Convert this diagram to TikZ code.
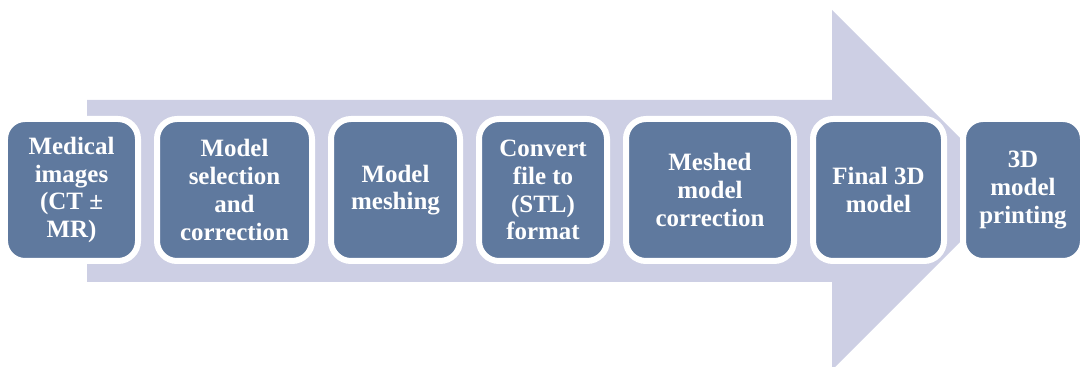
\documentclass[tikz,border=0pt]{standalone}
\usepackage{fontspec}
\setmainfont{Liberation Serif}
\usepackage{xcolor}
\usetikzlibrary{positioning}

\definecolor{stepblue}{RGB}{95,121,158}
\definecolor{arrowgray}{RGB}{205,207,228}

\begin{document}
\begin{tikzpicture}[
    node distance=0.26cm,
    box/.style={rectangle, rounded corners=0.4cm, fill=stepblue, draw=white, line width=0.12cm,
        minimum height=2.84cm, inner sep=0pt, align=center, text=white,
        font=\fontsize{14.2}{15.8}\selectfont\bfseries}
]
\useasboundingbox (0,0) rectangle (21.66,7.34);

\fill[arrowgray] (1.74,5.34) -- (16.64,5.34) -- (16.64,7.14) -- (20.24,3.54)
    -- (16.64,-0.06) -- (16.64,1.70) -- (1.74,1.70) -- cycle;

\node[box, minimum width=2.66cm] (images) at (1.43,3.54) {Medical\\images\\(CT ±\\MR)};
\node[box, minimum width=3.10cm, right=of images] (selection) {Model\\selection\\and\\correction};
\node[box, minimum width=2.58cm, right=of selection] (meshing) {Model\\meshing};
\node[box, minimum width=2.56cm, right=of meshing] (convert) {Convert\\file to\\(STL)\\format};
\node[box, minimum width=3.36cm, right=of convert] (meshcorr) {Meshed\\model\\correction};
\node[box, minimum width=2.62cm, right=of meshcorr] (final) {Final 3D\\model};
\node[box, minimum width=2.40cm, right=of final] (printing) {3D\\model\\printing};

\end{tikzpicture}
\end{document}
